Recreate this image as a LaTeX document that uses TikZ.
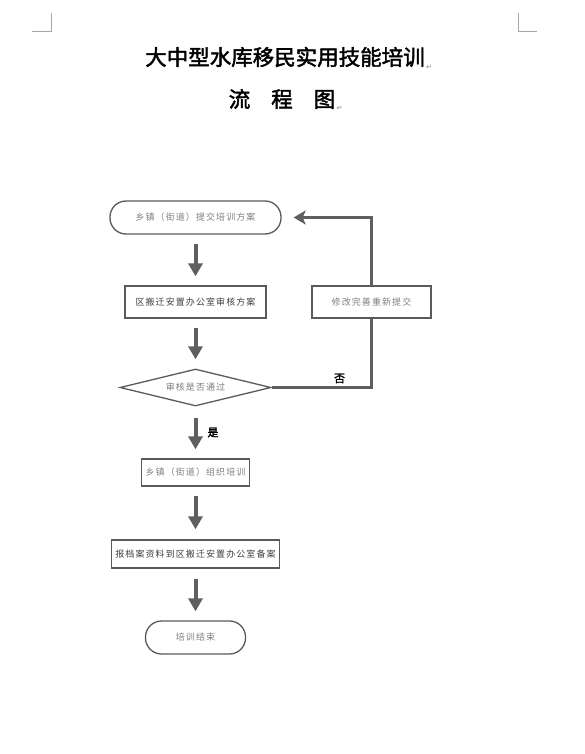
\documentclass[tikz,border=0pt]{standalone}
\usepackage{fontspec}
\usetikzlibrary{shapes.geometric,arrows.meta,positioning}

\newfontfamily\cjk[LetterSpace=12]{Noto Sans CJK SC}
\newfontfamily\cjktitle[FakeBold=2]{Noto Sans CJK SC}
\newfontfamily\symfont{DejaVu Sans}

\definecolor{boxgray}{HTML}{5A5A5A}
\definecolor{arrowgray}{HTML}{5F5F5F}
\definecolor{txtlight}{HTML}{808080}
\definecolor{txtdark}{HTML}{404040}

\begin{document}
\begin{tikzpicture}[x=1pt,y=-1pt,
   box/.style={draw=boxgray,line width=1.3pt,inner sep=0pt,
      font=\cjk\fontsize{9}{10}\selectfont},
   procbox/.style={box,rectangle,minimum height=32pt},
   roundbox/.style={box,rectangle,rounded corners=16pt,minimum height=33pt},
   decision/.style={box,diamond,aspect=4.1,minimum width=151pt,minimum height=37pt},
   flowarrow/.style={line width=4pt,draw=arrowgray,
      -{Triangle[width=14pt,length=13pt]},shorten <=9pt,shorten >=9pt},
   backline/.style={line width=2.6pt,draw=arrowgray},
   answer/.style={font=\cjktitle\fontsize{11}{11}\selectfont,inner sep=0pt},
   parmark/.style={font=\symfont\fontsize{7}{7}\selectfont,text=txtlight,inner sep=0pt}
]
   \fill[white] (0,0) rectangle (585,754);
   \useasboundingbox (0,0) rectangle (585,754);

   % page corner marks
   \draw[gray!70,line width=0.8pt] (32,31) -- (51,31) -- (51,13);
   \draw[gray!70,line width=0.8pt] (518,13) -- (518,31) -- (537,31);

   % titles
   \node[font=\cjktitle\fontsize{21.5}{22}\selectfont,inner sep=0pt] (title) at (285,57)
      {大中型水库移民实用技能培训};
   \node[parmark,anchor=south west] (mark1) at ([xshift=1pt,yshift=-2pt]title.south east) {↵};
   \node[font=\cjktitle\fontsize{21.5}{22}\selectfont,inner sep=0pt] (chart) at (282,99)
      {流\hspace{21pt}程\hspace{21pt}图};
   \node[parmark,anchor=south west] (mark2) at ([xshift=1pt,yshift=-2pt]chart.south east) {↵};

   % flow
   \node[roundbox,minimum width=171pt,text=txtlight] (apply) at (195.5,217.5)
      {乡镇（街道）提交培训方案};
   \node[procbox,minimum width=141pt,text=txtdark] (review) at (195.5,302)
      {区搬迁安置办公室审核方案};
   \node[procbox,minimum width=119pt,text=txtlight] (revise) at (371.5,302)
      {修改完善重新提交};
   \node[decision,text=txtlight] (pass) at (195.5,387.5) {审核是否通过};
   \node[procbox,minimum width=108pt,minimum height=27pt,text=txtlight] (organize)
      at (195.5,472.5) {乡镇（街道）组织培训};
   \node[procbox,minimum width=168pt,minimum height=28pt,text=txtdark] (archive)
      at (195.5,554) {报档案资料到区搬迁安置办公室备案};
   \node[roundbox,minimum width=100pt,text=txtlight] (finish) at (195.5,637.5)
      {培训结束};

   \draw[flowarrow] (apply) -- (review);
   \draw[flowarrow] (review) -- (pass);
   \draw[flowarrow,shorten <=11pt] (pass.south) -- node[answer,right=10pt] {是} (organize.north);
   \draw[flowarrow,shorten >=10pt] (organize) -- (archive);
   \draw[flowarrow,shorten <=10pt] (archive) -- (finish);

   % back path
   \draw[backline] (pass.east) -- node[answer,pos=0.68,above=3pt] {否}
      (pass.east -| revise.south) -- (revise.south);
   \draw[backline,-{Stealth[width=14pt,length=12pt,inset=3pt]},shorten >=12pt]
      (revise.north) |- (apply.east);
\end{tikzpicture}
\end{document}
